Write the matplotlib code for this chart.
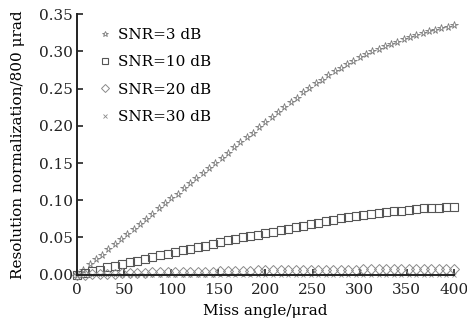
import matplotlib
matplotlib.use("Agg")
import matplotlib.pyplot as plt
import numpy as np

plt.rcParams['font.family'] = ['DejaVu Serif']
plt.rcParams['mathtext.fontset'] = 'dejavuserif'

# sampling grids (µrad)
miss_angle_3 = np.linspace(0, 400, 61)
miss_angle = list(range(0, 401, 8))

snr3 = [0.000, 0.007, 0.014, 0.021, 0.027, 0.034, 0.041, 0.048, 0.055, 0.062,
        0.068, 0.075, 0.082, 0.089, 0.096, 0.103, 0.109, 0.116, 0.123, 0.130,
        0.137, 0.144, 0.150, 0.157, 0.164, 0.171, 0.178, 0.185, 0.191, 0.198,
        0.205, 0.212, 0.218, 0.225, 0.232, 0.238, 0.245, 0.251, 0.257, 0.262,
        0.268, 0.273, 0.278, 0.283, 0.287, 0.292, 0.296, 0.300, 0.303, 0.307,
        0.310, 0.313, 0.316, 0.319, 0.322, 0.325, 0.327, 0.329, 0.331, 0.333,
        0.335]
snr10 = [0.000, 0.002, 0.005, 0.007, 0.010, 0.012, 0.014, 0.017, 0.019, 0.021,
         0.024, 0.026, 0.028, 0.030, 0.033, 0.035, 0.037, 0.039, 0.041, 0.044,
         0.046, 0.048, 0.050, 0.052, 0.054, 0.056, 0.058, 0.060, 0.062, 0.064,
         0.066, 0.068, 0.070, 0.072, 0.074, 0.076, 0.077, 0.079, 0.080, 0.082,
         0.083, 0.084, 0.085, 0.086, 0.087, 0.088, 0.089, 0.090, 0.090, 0.091,
         0.091]
snr20 = [0.000, 0.000, 0.001, 0.001, 0.001, 0.001, 0.002, 0.002, 0.002, 0.002,
         0.003, 0.003, 0.003, 0.003, 0.004, 0.004, 0.004, 0.004, 0.004, 0.005,
         0.005, 0.005, 0.005, 0.005, 0.006, 0.006, 0.006, 0.006, 0.006, 0.006,
         0.007, 0.007, 0.007, 0.007, 0.007, 0.007, 0.007, 0.007, 0.008, 0.008,
         0.008, 0.008, 0.008, 0.008, 0.008, 0.008, 0.008, 0.008, 0.008, 0.008,
         0.008]
snr30 = [0.000, 0.000, 0.000, 0.000, 0.000, 0.000, 0.000, 0.000, 0.000, 0.000,
         0.000, 0.000, 0.000, 0.000, 0.000, 0.000, 0.000, 0.000, 0.000, 0.000,
         0.000, 0.000, 0.000, 0.000, 0.000, 0.000, 0.000, 0.000, 0.000, 0.000,
         0.000, 0.000, 0.000, 0.000, 0.000, 0.000, 0.000, 0.000, 0.000, 0.000,
         0.000, 0.000, 0.000, 0.000, 0.000, 0.000, 0.000, 0.000, 0.000, 0.000,
         0.000]

labels = ["SNR=3 dB", "SNR=10 dB", "SNR=20 dB", "SNR=30 dB"]
x_ticks = [0, 50, 100, 150, 200, 250, 300, 350, 400]
y_ticks = [0.00, 0.05, 0.10, 0.15, 0.20, 0.25, 0.30, 0.35]

fig = plt.figure(figsize=(4.67, 3.29), dpi=100)
ax = fig.add_axes([0.165, 0.165, 0.807, 0.792])

ax.plot(miss_angle_3, snr3, linestyle='none', marker='*', ms=5.5, mfc='none',
        mec='#7a7a7a', mew=0.6, label=labels[0], clip_on=False)
ax.plot(miss_angle, snr10, linestyle='none', marker='s', ms=6.3, mfc='none',
        mec='#555555', mew=0.8, label=labels[1], clip_on=False)
ax.plot(miss_angle, snr20, linestyle='none', marker='D', ms=5.5, mfc='none',
        mec='#8a8a8a', mew=0.7, label=labels[2], clip_on=False)
ax.plot(miss_angle, snr30, linestyle='none', marker='x', ms=3, mfc='none',
        mec='#8a8a8a', mew=0.6, label=labels[3], clip_on=False)

ax.set_xlim(0, 400)
ax.set_ylim(0, 0.35)
ax.set_xticks(x_ticks)
ax.set_yticks(y_ticks)
ax.set_yticklabels([f"{v:.2f}" for v in y_ticks])
ax.tick_params(direction='in', length=4, width=1.2, labelsize=11, colors='#222222')
ax.tick_params(axis='y', pad=3)
ax.tick_params(axis='x', pad=6)
for s in ['top', 'right']:
    ax.spines[s].set_visible(False)
for s in ['left', 'bottom']:
    ax.spines[s].set_linewidth(1.4)
    ax.spines[s].set_color('#222222')

ax.set_xlabel("Miss angle/\u03bcrad", fontsize=11, labelpad=5)
ax.set_ylabel("Resolution normalization/800 \u03bcrad", fontsize=11, labelpad=10)

leg = ax.legend(loc='upper left', frameon=False, fontsize=11, markerscale=0.75,
                handlelength=0.6, handletextpad=0.55, labelspacing=0.88,
                bbox_to_anchor=(0.025, 1.0))

fig.savefig("out.png", dpi=100)
